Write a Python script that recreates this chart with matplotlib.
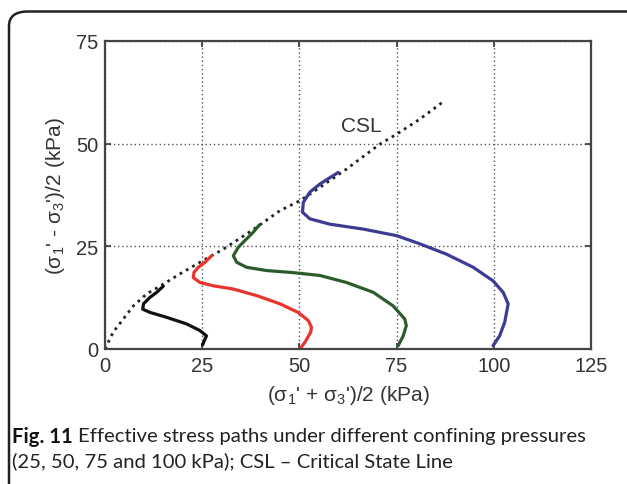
import matplotlib
matplotlib.use("Agg")
import matplotlib.pyplot as plt
from matplotlib.patches import FancyBboxPatch

# ---- data ----
csl_p = [0.0, 0.4, 2.1, 4.7, 7.3, 10.7, 15.0, 19.3, 24.4, 30.4, 36.4, 39.8, 45.0, 50.1, 53.5, 62.1, 70.7, 75.0, 81.0, 87.4]
csl_q = [0.0, 0.8, 4.1, 7.3, 10.5, 13.4, 15.8, 18.3, 21.1, 24.3, 28.0, 30.2, 33.7, 36.1, 38.2, 43.8, 49.9, 52.3, 56.0, 60.5]

p25 = [25.1, 25.7, 26.1, 24.4, 21.0, 15.9, 11.6, 9.7, 9.9, 11.6, 13.3, 15.0]
q25 = [1.0, 2.4, 3.2, 4.5, 6.1, 7.7, 8.9, 9.7, 11.0, 12.6, 13.8, 15.3]

p50 = [50.1, 51.4, 52.9, 53.1, 52.3, 49.7, 45.0, 39.0, 33.0, 27.8, 24.4, 22.7, 22.9, 24.0, 25.7, 27.4]
q50 = [0.0, 1.6, 4.1, 5.3, 6.9, 8.9, 11.0, 13.0, 14.6, 15.4, 16.2, 17.4, 18.7, 19.9, 21.1, 22.7]

p75 = [75.4, 76.7, 77.5, 77.1, 74.1, 69.0, 62.1, 55.3, 48.4, 41.6, 36.4, 33.9, 33.0, 34.3, 36.4, 38.1, 39.7]
q75 = [0.8, 3.2, 5.7, 7.3, 10.5, 13.8, 16.2, 17.9, 18.6, 19.1, 19.9, 21.1, 22.7, 24.8, 26.8, 28.4, 30.2]

p100 = [99.8, 101.5, 102.8, 103.7, 102.4, 99.8, 94.7, 87.8, 81.0, 75.0, 66.4, 57.8, 52.7, 50.8, 51.0, 52.7, 55.3, 60.0]
q100 = [0.8, 3.2, 6.5, 11.0, 13.8, 16.6, 19.9, 23.1, 25.6, 27.6, 29.2, 30.4, 31.7, 33.3, 35.7, 38.2, 40.2, 43.0]

xticks = [0, 25, 50, 75, 100, 125]
yticks = [0, 25, 50, 75]

plt.rcParams['font.family'] = ['Liberation Sans', 'DejaVu Sans']
plt.rcParams['mathtext.fontset'] = 'custom'
plt.rcParams['mathtext.rm'] = 'Liberation Sans'
plt.rcParams['mathtext.it'] = 'Liberation Sans:italic'

W, H = 627, 485
fig = plt.figure(figsize=(W / 100, H / 100), dpi=100)

# rounded border
border = FancyBboxPatch((9 / W, -0.05), (W + 30) / W, (H - 12.5) / H + 0.05,
                        boxstyle="round,pad=0,rounding_size=0.03",
                        transform=fig.transFigure, fill=False,
                        edgecolor='#222222', linewidth=1.8, clip_on=False)
fig.patches.append(border)

ax = fig.add_axes([105 / W, 1 - 350 / H, (591 - 105) / W, (350 - 42) / H])

ax.plot(csl_p, csl_q, color='#222222', linestyle=(0, (1, 1.6)), linewidth=2.0)
kw = dict(linewidth=2.3, solid_capstyle='round', solid_joinstyle='round')
ax.plot(p25, q25, color='#111111', **kw)
ax.plot(p50, q50, color='#e8342c', **kw)
ax.plot(p75, q75, color='#2c5c2c', **kw)
ax.plot(p100, q100, color='#3c3c94', **kw)

ax.text(66, 54.4, 'CSL', fontsize=15, color='#333333', ha='center', va='center')

ax.set_xlim(0, 125)
ax.set_ylim(0, 75)
ax.set_xticks(xticks)
ax.set_yticks(yticks)
ax.grid(True, color='#555555', linestyle=(0, (1, 2)), linewidth=1.0)
ax.tick_params(direction='in', top=True, right=True, length=4, width=1.2,
               labelsize=14.5, labelcolor='#333333', color='#333333', pad=5)
for s in ax.spines.values():
    s.set_linewidth(1.6)
    s.set_color('#444444')

ax.set_xlabel("(σ$_1$' + σ$_3$')/2 (kPa)", fontsize=15, color='#333333', labelpad=6)
ax.set_ylabel("(σ$_1$' - σ$_3$')/2 (kPa)", fontsize=15, color='#333333', labelpad=6)

# caption
cap_font = ['Lato', 'DejaVu Sans']
cap_size = 14.6
t1 = fig.text(12 / W, 1 - 437 / H, 'Fig. 11', fontsize=cap_size, fontweight='bold',
              family=cap_font, va='center', ha='left', color='#111111')
fig.canvas.draw()
bb = t1.get_window_extent()
fig.text((bb.x1 + 5) / W, 1 - 437 / H, 'Effective stress paths under different confining pressures',
         fontsize=cap_size, family=cap_font, va='center', ha='left', color='#222222')
fig.text(12 / W, 1 - 461 / H, '(25, 50, 75 and 100 kPa); CSL – Critical State Line',
         fontsize=cap_size, family=cap_font, va='center', ha='left', color='#222222')

fig.savefig('out.png', dpi=100)
